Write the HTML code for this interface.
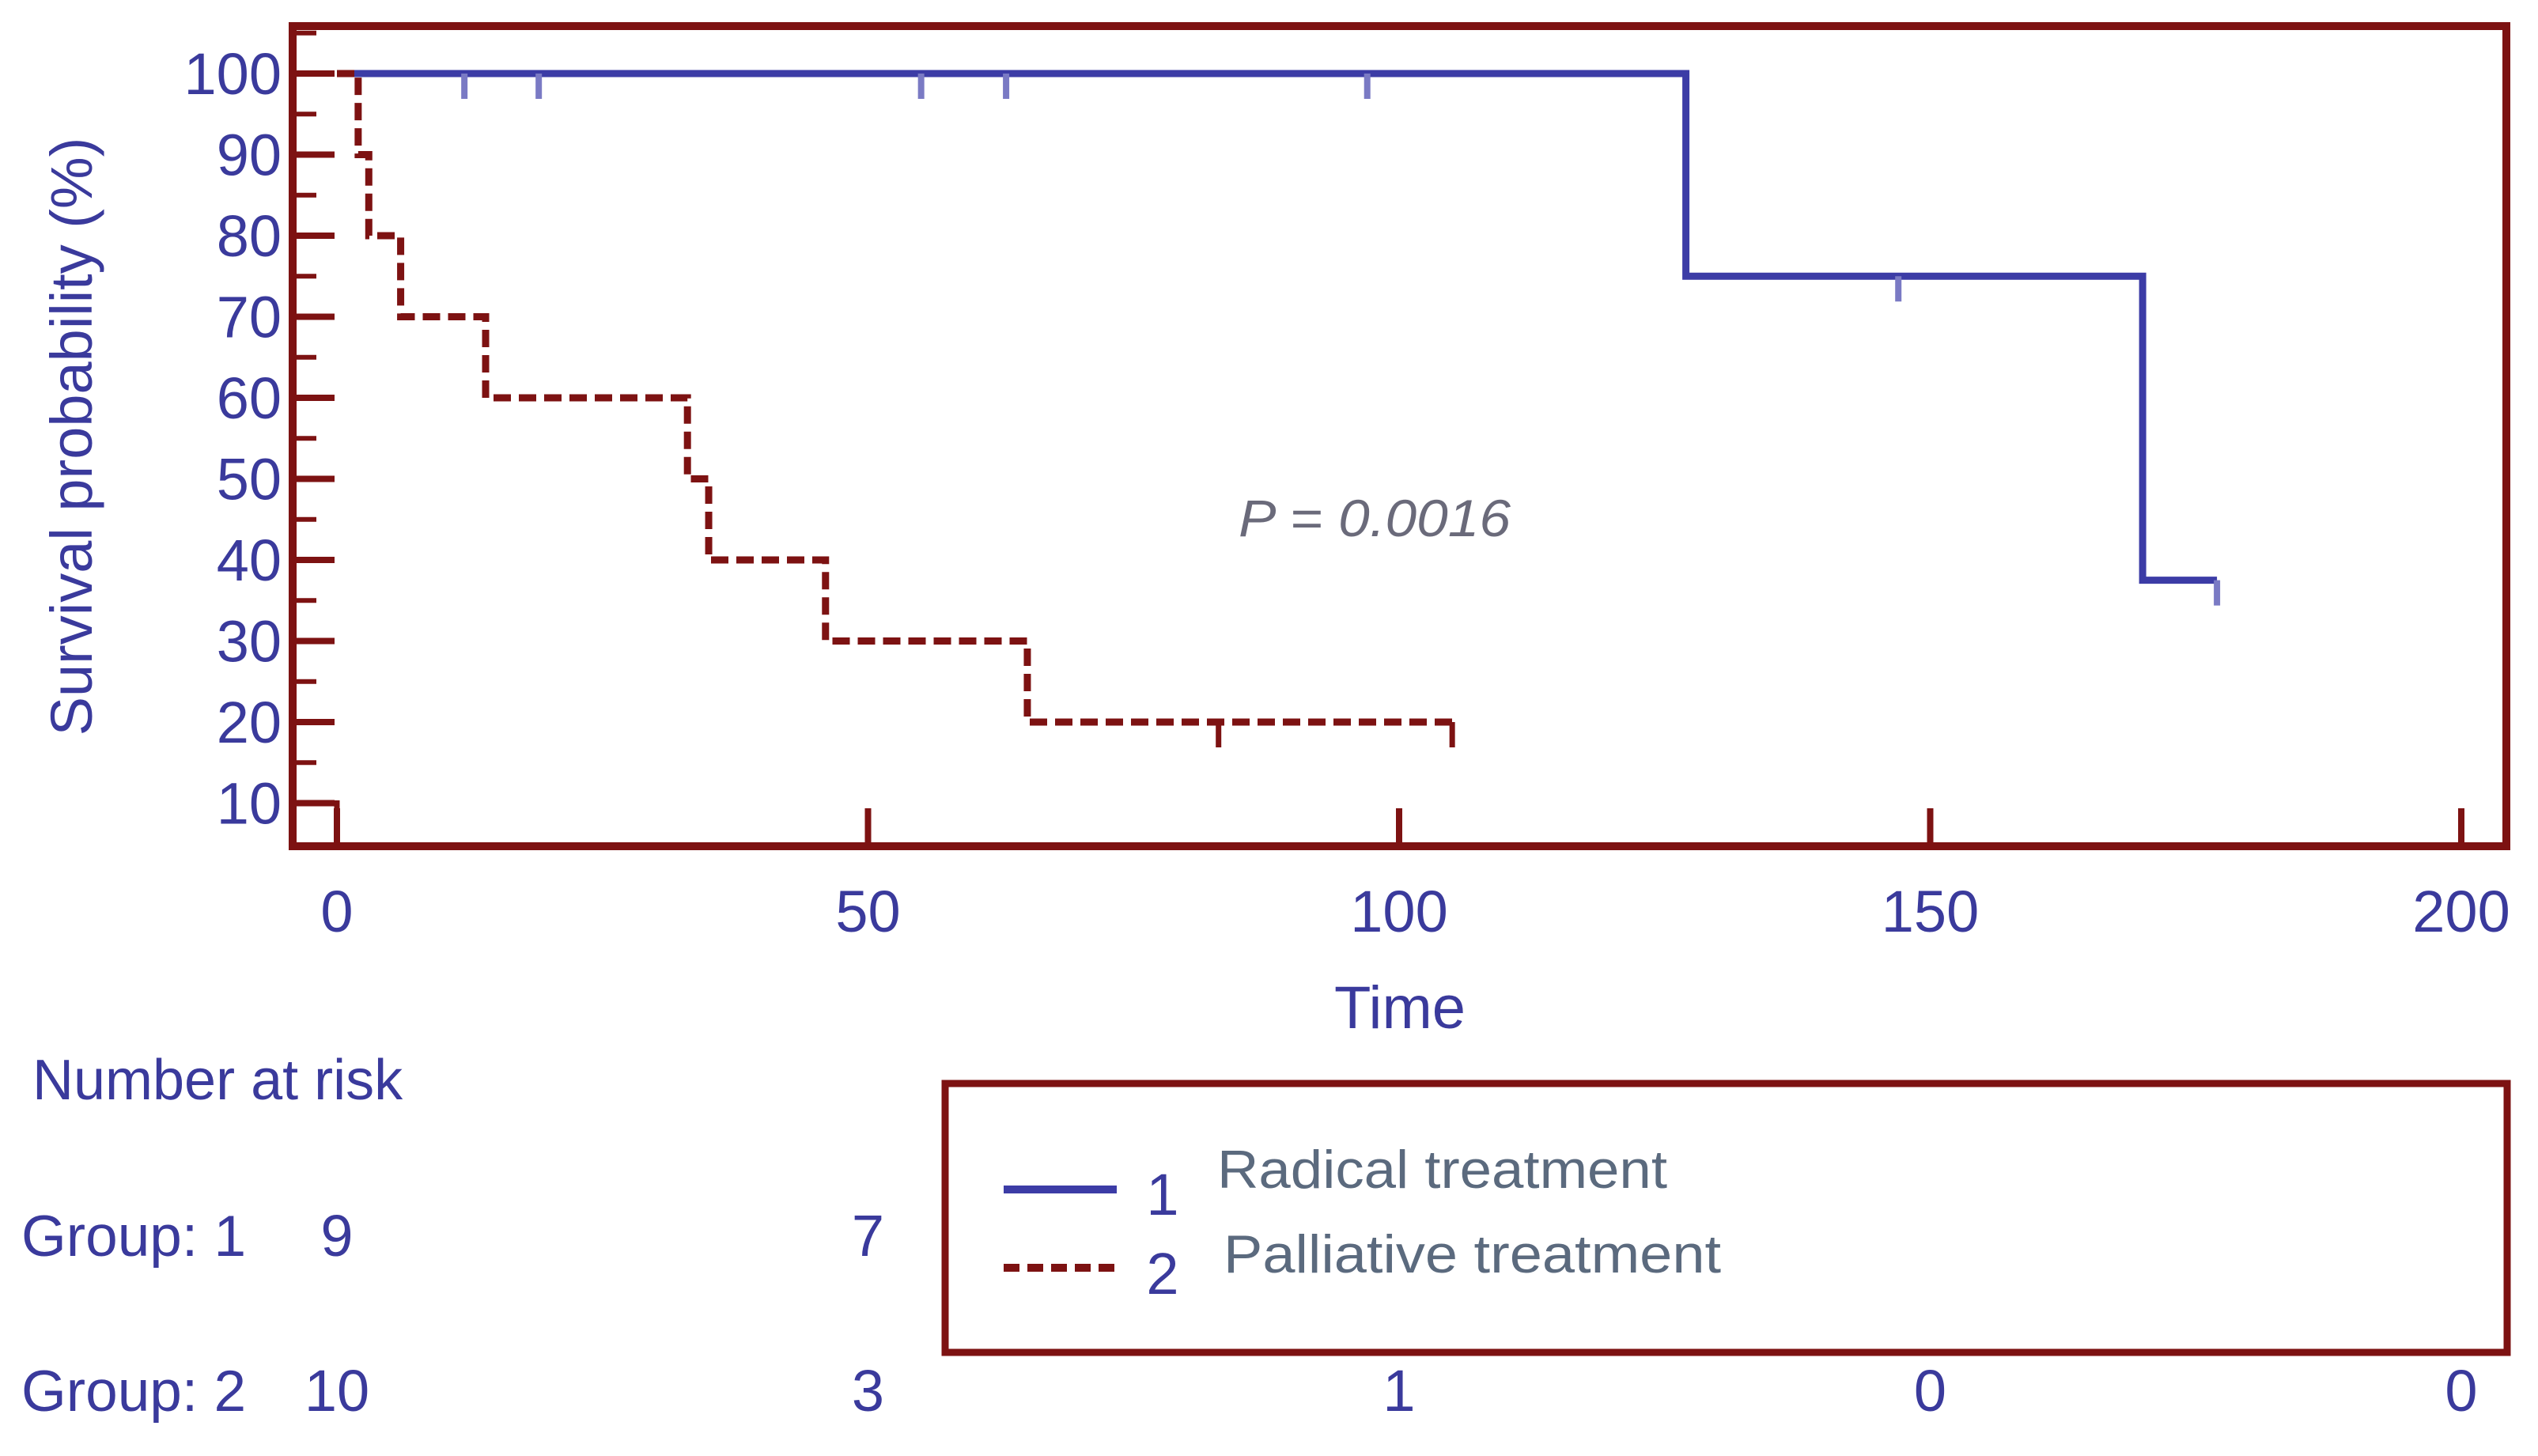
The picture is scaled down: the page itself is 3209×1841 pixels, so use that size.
<!DOCTYPE html>
<html><head><meta charset="utf-8"><style>
html,body{margin:0;padding:0;background:#fff;}
svg{display:block;}
</style></head><body>
<svg id="chart" width="3209" height="1841" viewBox="0 0 3209 1841" xmlns="http://www.w3.org/2000/svg" font-family="'Liberation Sans', sans-serif">
<rect x="0" y="0" width="3209" height="1841" fill="#fff"/>
<g id="plot"></g>
</svg>
<script>
const xTicks = [0, 50, 100, 150, 200];
const yTicks = [10, 20, 30, 40, 50, 60, 70, 80, 90, 100];
const g1Times = [0, 127, 170, 177];
const g1Surv = [100, 75, 37.5, 37.5];
const g1Censor = [12, 19, 55, 63, 97, 147, 177];
const g2Times = [0, 2, 3, 6, 14, 33, 35, 46, 65, 105];
const g2Surv = [100, 90, 80, 70, 60, 50, 40, 30, 20, 20];
const g2Censor = [83, 105];
const riskTimes = [0, 50, 100, 150, 200];
const risk1 = [9, 7, null, null, null];
const risk2 = [10, 3, 1, 0, 0];

const NS = 'http://www.w3.org/2000/svg';
const root = document.getElementById('plot');
const X = t => 426 + t * 13.43;
const Y = v => 1118 - v * 10.25;
const BLUE = '#3c3ca6', RED = '#7d1212', TXT = '#3a3a9c';
function mk(tag, attrs, parent) {
  const e = document.createElementNS(NS, tag);
  for (const k in attrs) e.setAttribute(k, attrs[k]);
  (parent || root).appendChild(e);
  return e;
}
function stepPath(ts, ss) {
  let d = 'M' + X(ts[0]) + ',' + Y(ss[0]);
  for (let i = 1; i < ts.length; i++) {
    d += ' L' + X(ts[i]) + ',' + Y(ss[i - 1]) + ' L' + X(ts[i]) + ',' + Y(ss[i]);
  }
  return d;
}
function survAt(ts, ss, t) {
  let v = ss[0];
  for (let i = 0; i < ts.length; i++) if (ts[i] <= t) v = ss[i];
  return v;
}

const frame = mk('rect', {x: 370, y: 33, width: 2799, height: 1037, fill: 'none', stroke: RED, 'stroke-width': 10});



yTicks.forEach(v => {
  const t = mk('line', {x1: 370, x2: 423, y1: Y(v), y2: Y(v), stroke: RED, 'stroke-width': 8});
  
  
  const m = mk('line', {x1: 370, x2: 400, y1: Y(v + 5), y2: Y(v + 5), stroke: RED, 'stroke-width': 6});
  
  
  const l = mk('text', {x: 356, y: Y(v) + 26, 'text-anchor': 'end', 'font-size': 74, fill: TXT});
  l.textContent = v;
  
  
});
xTicks.forEach(v => {
  const t = mk('line', {x1: X(v), x2: X(v), y1: 1070, y2: 1022, stroke: RED, 'stroke-width': 8});
  
  
  const l = mk('text', {x: X(v), y: 1178, 'text-anchor': 'middle', 'font-size': 74, fill: TXT});
  l.textContent = v;
  
  
});
const yt = mk('text', {x: 0, y: 0, transform: 'translate(116,552) rotate(-90)', 'text-anchor': 'middle', 'font-size': 74, fill: TXT});
yt.textContent = 'Survival probability (%)';


const xt = mk('text', {x: 1770, y: 1300, 'text-anchor': 'middle', 'font-size': 76, fill: TXT});
xt.textContent = 'Time';



const art = mk('path', {d: 'M375,' + Y(10) + ' L' + X(0) + ',' + Y(10) + ' L' + X(0) + ',1068', fill: 'none', stroke: RED, 'stroke-width': 7});



const c1 = mk('path', {d: stepPath(g1Times, g1Surv), fill: 'none', stroke: BLUE, 'stroke-width': 9});


g1Censor.forEach(t => {
  const v = survAt(g1Times, g1Surv, t);
  const c = mk('line', {x1: X(t), x2: X(t), y1: Y(v), y2: Y(v) + 32, stroke: '#7a7ac4', 'stroke-width': 8});
  
  
});
const c2 = mk('path', {d: stepPath(g2Times, g2Surv), fill: 'none', stroke: RED, 'stroke-width': 9, 'stroke-dasharray': '22 10'});


g2Censor.forEach(t => {
  const v = survAt(g2Times, g2Surv, t);
  const c = mk('line', {x1: X(t), x2: X(t), y1: Y(v), y2: Y(v) + 32, stroke: RED, 'stroke-width': 7});
  
  
});

const p = mk('text', {x: 1566, y: 678, 'font-size': 66, 'font-style': 'italic', fill: '#6a6a7a', textLength: 344, lengthAdjust: 'spacingAndGlyphs'});
p.textContent = 'P = 0.0016';



const nar = mk('text', {x: 41, y: 1390, 'font-size': 72, fill: TXT});
nar.textContent = 'Number at risk';


[['Group: 1', risk1, 1588], ['Group: 2', risk2, 1784]].forEach(([lab, arr, yy]) => {
  const gl = mk('text', {x: 27, y: yy, 'font-size': 73, fill: TXT});
  gl.textContent = lab;
  
  
  arr.forEach((n, i) => {
    if (n === null) return;
    const t = mk('text', {x: X(riskTimes[i]), y: yy, 'text-anchor': 'middle', 'font-size': 74, fill: TXT});
    t.textContent = n;
    
    
  });
});

const lg = mk('rect', {x: 1195, y: 1370, width: 1975, height: 340, fill: '#fff', stroke: RED, 'stroke-width': 9});


const l1 = mk('line', {x1: 1269, x2: 1412, y1: 1504, y2: 1504, stroke: BLUE, 'stroke-width': 10});


const l2 = mk('line', {x1: 1269, x2: 1412, y1: 1603, y2: 1603, stroke: RED, 'stroke-width': 10, 'stroke-dasharray': '20 10'});


const n1 = mk('text', {x: 1470, y: 1536, 'text-anchor': 'middle', 'font-size': 74, fill: TXT});
n1.textContent = '1';


const n2 = mk('text', {x: 1470, y: 1636, 'text-anchor': 'middle', 'font-size': 74, fill: TXT});
n2.textContent = '2';


const t1 = mk('text', {x: 1539, y: 1502, 'font-size': 68, fill: '#5b6a7e', textLength: 569, lengthAdjust: 'spacingAndGlyphs'});
t1.textContent = 'Radical treatment';


const t2 = mk('text', {x: 1547, y: 1609, 'font-size': 68, fill: '#5b6a7e', textLength: 629, lengthAdjust: 'spacingAndGlyphs'});
t2.textContent = 'Palliative treatment';


</script>
</body></html>
